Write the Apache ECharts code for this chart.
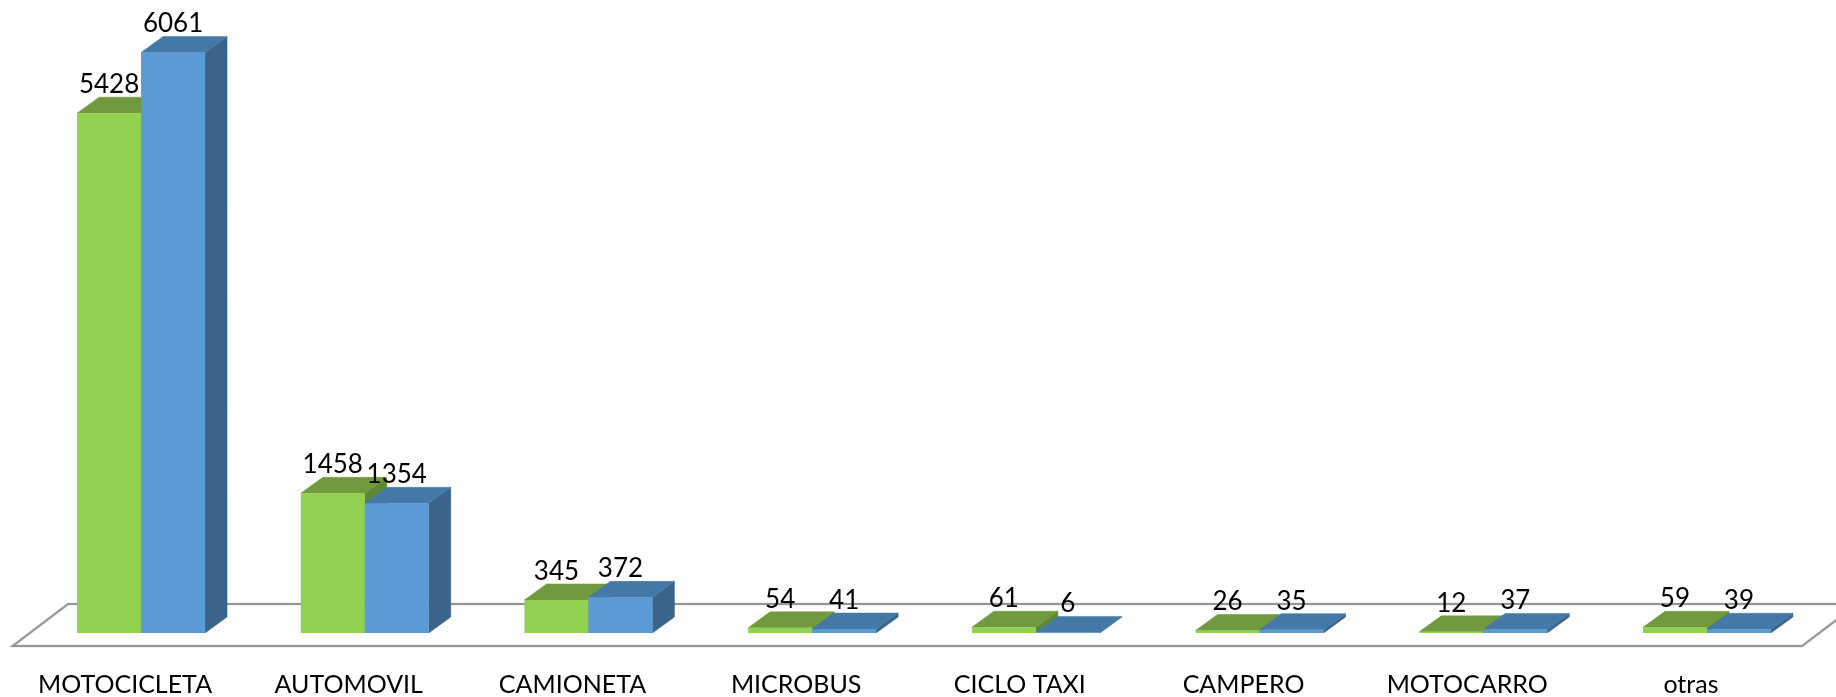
<!DOCTYPE html>
<html><head><meta charset="utf-8">
<style>html,body{margin:0;padding:0;background:#fff}#c{width:1836px;height:697px}</style>
<script src="https://cdn.jsdelivr.net/npm/echarts@6/dist/echarts.min.js"></script>
</head><body><div id="c"></div>
<script>
const categories = ['MOTOCICLETA','AUTOMOVIL','CAMIONETA','MICROBUS','CICLO TAXI','CAMPERO','MOTOCARRO','otras'];
const serieVerde = [5428,1458,345,54,61,26,12,59];
const serieAzul  = [6061,1354,372,41,6,35,37,39];
const FONT = 'Lato';
const DX = 22, DY = 16, BAR_RATIO = 64/223.7;

function barRenderer(side, front, top, dark){
  return function(params, api){
    const i = api.value(0), v = api.value(1);
    const p = api.coord([i, v]), b = api.coord([i, 0]);
    const w = api.size([1,0])[0] * BAR_RATIO;
    const x0 = side < 0 ? p[0]-w : p[0], x1 = x0 + w, yT = p[1], yB = b[1];
    const poly = (pts, fill) => ({type:'polygon', shape:{points:pts}, style:{fill:fill, stroke:fill, lineWidth:0.5}});
    return {type:'group', children:[
      poly([[x1,yB],[x1+DX,yB-DY],[x1+DX,yT-DY],[x1,yT]], dark),
      poly([[x0,yT],[x0+DX,yT-DY],[x1+DX,yT-DY],[x1,yT]], top),
      {type:'rect', shape:{x:x0,y:yT,width:w,height:yB-yT}, style:{fill:front}},
      {type:'text', z2:50, style:{text:String(v), x:(x0+x1)/2, y:yT-28.5, align:'center', verticalAlign:'middle',
        font:'26px '+FONT, fill:'#000'}}
    ]};
  };
}
function floorRenderer(params, api){
  const cs = params.coordSys, y = api.coord([0,0])[1];
  const L = cs.x-16.5, R = cs.x+cs.width-16.8, f = y+13, bk = y-29, s = 55.5;
  return {type:'polygon', shape:{points:[[L,f],[L+s,bk],[R+s,bk],[R,f]]},
    style:{fill:'#fff', stroke:'#969696', lineWidth:2, shadowBlur:2, shadowColor:'rgba(0,0,0,.2)'}};
}
const chart = echarts.init(document.getElementById('c'));
chart.setOption({
  animation:false,
  backgroundColor:'#fff',
  grid:{left:29.2, width:1789.6, top:34.4, height:599.4},
  xAxis:{type:'category', data:categories, axisLine:{show:false}, axisTick:{show:false},
    axisLabel:{interval:0, margin:39, fontFamily:FONT, fontSize:25, color:'#000', padding:[0,32,0,0]}},
  yAxis:{type:'value', min:0, max:6250, show:false, splitLine:{show:false}},
  series:[
    {type:'custom', name:'base', silent:true, clip:false, z:1, data:[[0,0]], renderItem:floorRenderer, encode:{x:0,y:1}},
    {type:'custom', name:'Serie 1', clip:false, z:2, encode:{x:0,y:1},
      data:serieVerde.map((v,i)=>[i,v]), renderItem:barRenderer(-1,'#92D050','#71993D','#5F8833')},
    {type:'custom', name:'Serie 2', clip:false, z:3, encode:{x:0,y:1},
      data:serieAzul.map((v,i)=>[i,v]), renderItem:barRenderer(1,'#5B9BD5','#4478A6','#3A6488')}
  ]
});
</script></body></html>
